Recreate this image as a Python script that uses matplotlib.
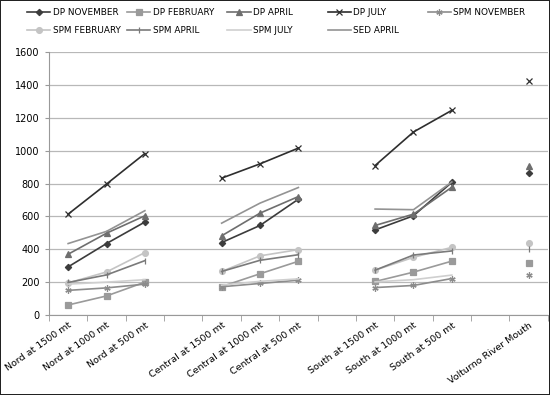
import numpy as np
import matplotlib.pyplot as plt

nan = np.nan

# x categories (blank slots separate the groups)
categories = ['Nord at 1500 mt', 'Nord at 1000 mt', 'Nord at 500 mt', '',
              'Central at 1500 mt', 'Central at 1000 mt', 'Central at 500 mt', '',
              'South at 1500 mt', 'South at 1000 mt', 'South at 500 mt', '',
              'Volturno River Mouth']

dp_november = [293, 435, 566, nan, 441, 545, 705, nan, 518, 604, 808, nan, 865]
dp_february = [61, 116, 200, nan, 173, 251, 327, nan, 204, 261, 328, nan, 318]
dp_april = [370, 498, 604, nan, 482, 620, 721, nan, 545, 614, 778, nan, 910]
dp_july = [614, 797, 983, nan, 833, 920, 1016, nan, 910, 1114, 1246, nan, 1425]
spm_november = [150, 165, 188, nan, 172, 192, 212, nan, 167, 180, 222, nan, 243]
spm_february = [195, 262, 380, nan, 265, 360, 398, nan, 273, 351, 412, nan, 441]
spm_april = [198, 244, 331, nan, 265, 333, 367, nan, 273, 365, 390, nan, 400]
spm_july = [188, 200, 215, nan, 182, 205, 220, nan, 202, 215, 243, nan, nan]
sed_april = [435, 509, 635, nan, 559, 681, 776, nan, 645, 641, 810, nan, nan]

series = [
    ('DP NOVEMBER', dp_november, '#3c3c3c', 'D', 3.2),
    ('DP FEBRUARY', dp_february, '#9a9a9a', 's', 4.2),
    ('DP APRIL', dp_april, '#6e6e6e', '^', 4.2),
    ('DP JULY', dp_july, '#2e2e2e', 'x', 4),
    ('SPM NOVEMBER', spm_november, '#8c8c8c', (6, 2, 0), 4.5),
    ('SPM FEBRUARY', spm_february, '#c4c4c4', 'o', 4.2),
    ('SPM APRIL', spm_april, '#7a7a7a', '|', 4.5),
    ('SPM JULY', spm_july, '#cfcfcf', '', 0),
    ('SED APRIL', sed_april, '#939393', '', 0),
]

fig = plt.figure(figsize=(5.5, 3.95), dpi=100, edgecolor='#222222', linewidth=1.2)
ax = fig.add_axes([0.089, 0.2025, 0.907, 0.6655])

x = np.arange(len(categories))
handles = []
for name, vals, color, marker, ms in series:
    h, = ax.plot(x, vals, color=color, marker=marker, markersize=ms, lw=1.2,
                 markeredgewidth=0.9, label=name)
    handles.append(h)

ax.set_xlim(-0.5, len(categories) - 0.5)
ax.set_ylim(0, 1600)
ax.set_yticks(range(0, 1601, 200))
ax.yaxis.grid(True, color='#b8b8b8', lw=0.9)
ax.set_axisbelow(True)

ax.set_xticks(x)
ax.set_xticklabels(categories, rotation=35, ha='right', rotation_mode='anchor',
                   fontsize=6.8)
ax.set_xticks(np.arange(-0.5, len(categories), 1), minor=True)
ax.tick_params(axis='x', which='major', length=0, pad=4)
ax.tick_params(axis='x', which='minor', length=4, color='#999999')
ax.tick_params(axis='y', labelsize=7, length=3, color='#999999')

for side in ['top', 'right']:
    ax.spines[side].set_visible(False)
for side in ['left', 'bottom']:
    ax.spines[side].set_color('#999999')

# legend: equal-width columns like the original
cols = [[0, 5], [1, 6], [2, 7], [3, 8], [4]]
for i, idx in enumerate(cols):
    fig.legend([handles[j] for j in idx], [series[j][0] for j in idx],
               loc='upper left', bbox_to_anchor=(0.035 + i * 0.182, 1.0),
               frameon=False, fontsize=6.4, handlelength=2.6, handletextpad=0.3,
               labelspacing=1.05)

plt.savefig('out.png', dpi=100)
